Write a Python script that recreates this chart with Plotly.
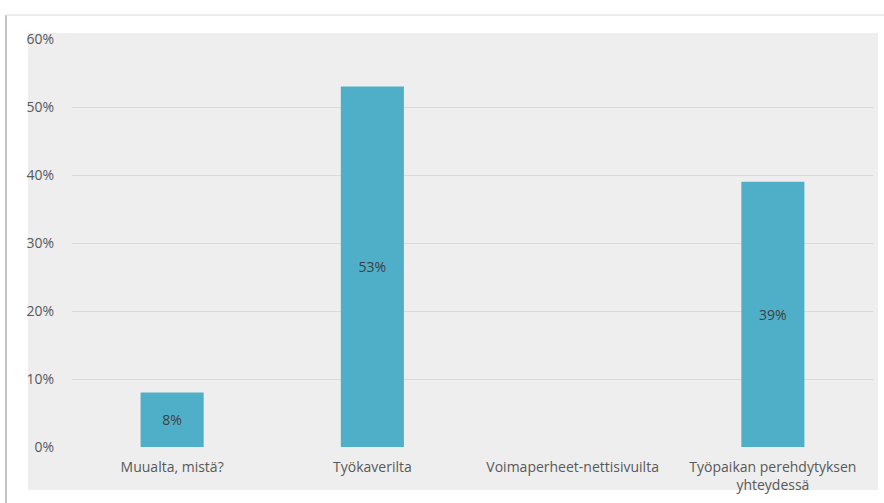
import plotly.graph_objects as go

categories = ["Muualta, mistä?", "Työkaverilta", "Voimaperheet-nettisivuilta",
              "Työpaikan perehdytyksen<br>yhteydessä"]
values = [8, 53, 0, 39]
labels = ["8%", "53%", "", "39%"]
tick_vals = [0, 10, 20, 30, 40, 50, 60]
tick_text = ["0%", "10%", "20%", "30%", "40%", "50%", "60%"]

W, H = 884, 503
L, R, T, B = 72, 11, 39, 56
pw, ph = W - L - R, H - T - B

def px(x):
    return (x - L) / pw

def py(y):
    return (H - B - y) / ph

fig = go.Figure()
fig.add_trace(go.Bar(
    x=categories, y=values, text=labels, textposition="inside",
    insidetextanchor="middle", textangle=0,
    marker=dict(color="#4FAFC8", line=dict(width=0)),
    width=0.315,
    textfont=dict(family="Open Sans", size=14, color="#404040"),
    hoverinfo="skip",
))

shapes = [
    dict(type="rect", xref="paper", yref="paper", x0=px(28), x1=px(878),
         y0=py(490), y1=py(33), fillcolor="#EEEEEE", line=dict(width=0),
         layer="below"),
    dict(type="line", xref="paper", yref="paper", x0=px(6), x1=px(6),
         y0=py(503), y1=py(15), line=dict(color="#C4C4C4", width=2)),
    dict(type="line", xref="paper", yref="paper", x0=px(6), x1=px(884),
         y0=py(15), y1=py(15), line=dict(color="#E6E6E6", width=1.5)),
]

fig.update_layout(
    width=W, height=H,
    margin=dict(l=L, r=R, t=T, b=B, pad=0),
    paper_bgcolor="white", plot_bgcolor="#EEEEEE",
    showlegend=False,
    shapes=shapes,
    font=dict(family="Open Sans", size=14, color="#595959"),
    xaxis=dict(showgrid=False, showline=False, ticks="", tickangle=0,
               ticklabelstandoff=10, automargin=False,
               tickfont=dict(size=14, color="#595959"), fixedrange=True),
    yaxis=dict(range=[0, 60], tickvals=tick_vals, ticktext=tick_text,
               showgrid=True, gridcolor="#D9D9D9", gridwidth=1,
               zeroline=False, showline=False, ticks="",
               ticklabelstandoff=17, automargin=False,
               tickfont=dict(size=14, color="#595959"), fixedrange=True),
    bargap=0.685,
)

fig.write_html("out.html")
